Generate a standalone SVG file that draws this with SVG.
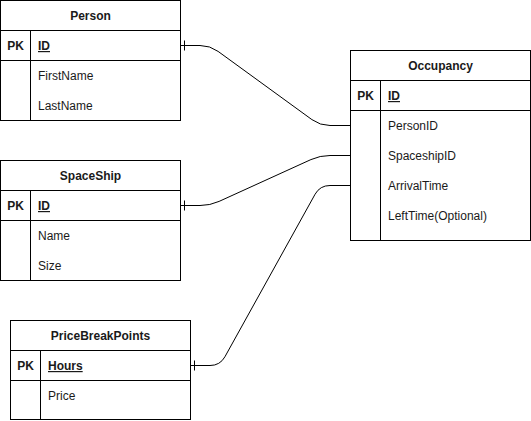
<svg xmlns="http://www.w3.org/2000/svg" width="531" height="421" viewBox="0 0 531 421">
  <style>
    .box { fill: #ffffff; stroke: #000000; stroke-width: 1; }
    .ln { fill: none; stroke: #000000; stroke-width: 1; }
    .edge { fill: none; stroke: #000000; stroke-width: 1; }
    text { font-family: "Liberation Sans", Arial, Helvetica, sans-serif; font-size: 12px; fill: #1a1a1a; }
    .title { font-weight: bold; text-anchor: middle; }
    .pk { font-weight: bold; text-anchor: middle; }
    .key { font-weight: bold; text-decoration: underline; }
  </style>
  <defs>
    <marker id="one" markerWidth="12" markerHeight="12" refX="0" refY="6" orient="auto" markerUnits="userSpaceOnUse">
      <path d="M4,1 L4,11" stroke="#000" stroke-width="1" fill="none"/>
    </marker>
  </defs>

  <!-- Person -->
  <g id="person">
    <rect class="box" x="0.5" y="0.5" width="180" height="120"/>
    <path class="ln" d="M0.5,30.5 H180.5 M0.5,60.5 H180.5 M30.5,30.5 V120.5"/>
    <text class="title" x="90.5" y="20">Person</text>
    <text class="pk" x="15.5" y="50">PK</text>
    <text class="key" x="38" y="50">ID</text>
    <text x="38" y="80">FirstName</text>
    <text x="38" y="110">LastName</text>
  </g>

  <!-- SpaceShip -->
  <g id="spaceship">
    <rect class="box" x="0.5" y="160.5" width="180" height="120"/>
    <path class="ln" d="M0.5,190.5 H180.5 M0.5,220.5 H180.5 M30.5,190.5 V280.5"/>
    <text class="title" x="90.5" y="180">SpaceShip</text>
    <text class="pk" x="15.5" y="210">PK</text>
    <text class="key" x="38" y="210">ID</text>
    <text x="38" y="240">Name</text>
    <text x="38" y="270">Size</text>
  </g>

  <!-- PriceBreakPoints -->
  <g id="pricebreakpoints">
    <rect class="box" x="10.5" y="320.5" width="180" height="99"/>
    <path class="ln" d="M10.5,350.5 H190.5 M10.5,380.5 H190.5 M40.5,350.5 V419.5"/>
    <text class="title" x="100.5" y="340">PriceBreakPoints</text>
    <text class="pk" x="25.5" y="370">PK</text>
    <text class="key" x="48" y="370">Hours</text>
    <text x="48" y="400">Price</text>
  </g>

  <!-- Occupancy -->
  <g id="occupancy">
    <rect class="box" x="350.5" y="50.5" width="180" height="190"/>
    <path class="ln" d="M350.5,80.5 H530.5 M350.5,110.5 H530.5 M380.5,80.5 V240.5"/>
    <text class="title" x="440.5" y="70">Occupancy</text>
    <text class="pk" x="365.5" y="100">PK</text>
    <text class="key" x="388" y="100">ID</text>
    <text x="388" y="130">PersonID</text>
    <text x="388" y="160">SpaceshipID</text>
    <text x="388" y="190">ArrivalTime</text>
    <text x="388" y="220">LeftTime(Optional)</text>
  </g>

  <!-- relations -->
  <g id="connectors">
    <path class="edge" marker-start="url(#one)" d="M180.5,45.5 H200 Q210,45.5 218.1,51.4 L311.9,119.6 Q320,125.5 330,125.5 H350.5"/>
    <path class="edge" marker-start="url(#one)" d="M180.5,205.5 H200 Q210,205.5 219.1,201.4 L310.9,159.6 Q320,155.5 330,155.5 H350.5"/>
    <path class="edge" marker-start="url(#one)" d="M190.5,365.5 H210 Q220,365.5 224.9,356.8 L315.1,194.2 Q320,185.5 330,185.5 H350.5"/>
  </g>
</svg>
